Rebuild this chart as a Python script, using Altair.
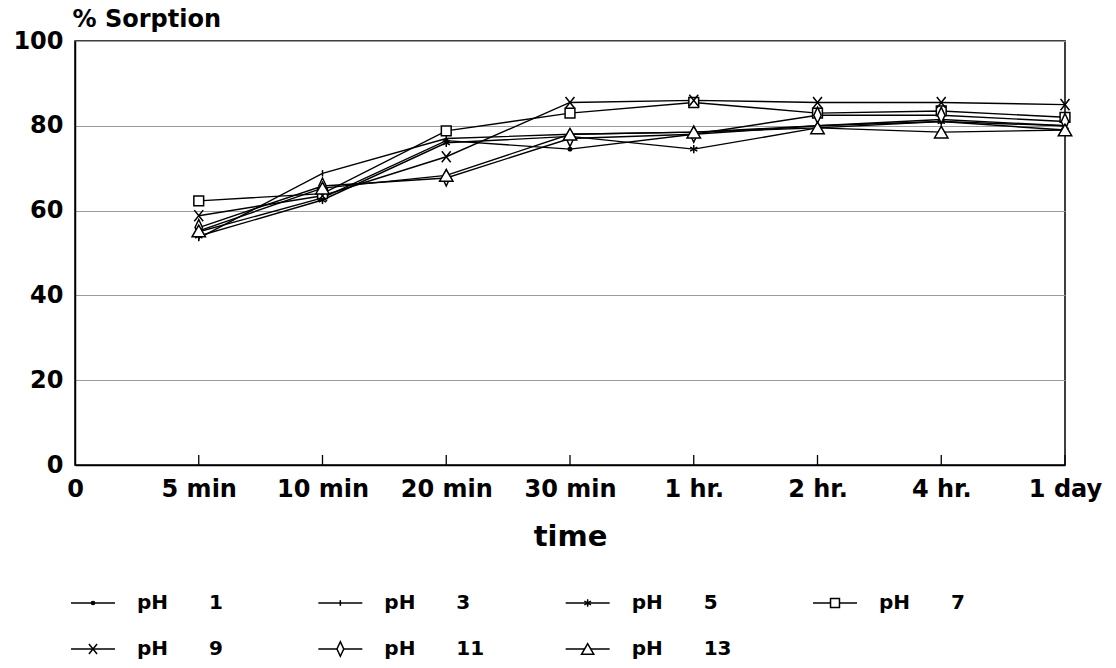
import json
import altair as alt
import pandas as pd

# ---------------- data ----------------
time_labels = ["0", "5 min", "10 min", "20 min", "30 min", "1 hr.", "2 hr.", "4 hr.", "1 day"]
series_names = ["pH 1", "pH 3", "pH 5", "pH 7", "pH 9", "pH 11", "pH 13"]
series_numbers = ["1", "3", "5", "7", "9", "11", "13"]

# values at 5 min, 10 min, 20 min, 30 min, 1 hr., 2 hr., 4 hr., 1 day
ph_1 = [55.0, 63.0, 76.5, 74.5, 78.0, 80.0, 81.0, 80.0]
ph_3 = [53.5, 68.8, 77.0, 78.0, 78.5, 80.0, 81.5, 80.0]
ph_5 = [54.0, 62.5, 76.0, 77.5, 74.5, 79.5, 81.0, 79.0]
ph_7 = [62.3, 64.0, 78.8, 83.0, 85.5, 83.0, 83.5, 82.0]
ph_9 = [58.8, 63.5, 72.7, 85.5, 86.0, 85.5, 85.5, 85.0]
ph_11 = [56.0, 65.8, 67.7, 77.0, 78.0, 82.5, 82.5, 81.0]
ph_13 = [55.2, 65.3, 68.3, 78.0, 78.5, 79.5, 78.5, 79.0]

all_values = [ph_1, ph_3, ph_5, ph_7, ph_9, ph_11, ph_13]

# ---------------- styles ----------------
FONT = "DejaVu Sans"
shape_range = [
    "circle",
    "M0,-1L0,1",
    "M0,-1L0,1M-0.87,-0.5L0.87,0.5M-0.87,0.5L0.87,-0.5",
    "square",
    "M-0.8,-1L0.8,1M-0.8,1L0.8,-1",
    "M0,-1.3L0.6,0L0,1.3L-0.6,0Z",
    "triangle-up",
]
fill_range = ["black", "white", "white", "white", "white", "white", "white"]
size_range = [12, 180, 160, 120, 140, 130, 120]
legend_size_range = [10, 150, 130, 70, 100, 90, 80]

W, H = 990, 424

rows = []
for name, vals in zip(series_names, all_values):
    for i, v in enumerate(vals):
        rows.append({"series": name, "t": i + 1, "value": v})
df = pd.DataFrame(rows)

tick_df = pd.DataFrame({"t": list(range(1, len(time_labels)))})

label_expr = json.dumps(time_labels) + "[datum.value]"

x_enc = alt.X(
    "t:Q",
    scale=alt.Scale(domain=[0, 8], nice=False, zero=False),
    axis=alt.Axis(
        values=list(range(len(time_labels))),
        labelExpr=label_expr,
        title="time",
        grid=False,
        ticks=False,
        domainColor="black",
        domainWidth=1.5,
        labelFont=FONT,
        labelFontWeight="bold",
        labelFontSize=24,
        labelColor="black",
        labelPadding=12,
        labelFlush=False,
        labelOverlap=False,
        titleFont=FONT,
        titleFontWeight="bold",
        titleFontSize=29,
        titleColor="black",
        titlePadding=21,
    ),
)
y_enc = alt.Y(
    "value:Q",
    scale=alt.Scale(domain=[0, 100], nice=False),
    axis=alt.Axis(
        values=[0, 20, 40, 60, 80, 100],
        grid=True,
        gridColor="#9a9a9a",
        gridWidth=1,
        ticks=False,
        domainColor="black",
        domainWidth=1.5,
        labelFont=FONT,
        labelFontWeight="bold",
        labelFontSize=24,
        labelColor="black",
        labelPadding=12,
        title="% Sorption",
        titleAngle=0,
        titleAlign="left",
        titleBaseline="alphabetic",
        titleX=-3,
        titleY=-15,
        titleFont=FONT,
        titleFontWeight="bold",
        titleFontSize=24,
        titleColor="black",
    ),
)

lines = alt.Chart(df).mark_line(color="black", strokeWidth=1.4).encode(
    x=x_enc, y=y_enc, detail="series:N"
)
points = alt.Chart(df).mark_point(stroke="black", strokeWidth=1.5, opacity=1).encode(
    x="t:Q",
    y="value:Q",
    shape=alt.Shape("series:N", scale=alt.Scale(domain=series_names, range=shape_range), legend=None),
    fill=alt.Fill("series:N", scale=alt.Scale(domain=series_names, range=fill_range), legend=None),
    size=alt.Size("series:N", scale=alt.Scale(domain=series_names, range=size_range), legend=None),
)
inner_ticks = alt.Chart(tick_df).mark_rule(color="black", strokeWidth=1.3).encode(
    x="t:Q", y=alt.value(H), y2=alt.value(H - 10)
)

main = alt.layer(lines, points, inner_ticks).properties(
    width=W, height=H, view=alt.ViewBackground(stroke="black", strokeWidth=1.5)
)

# ---------------- legend panel ----------------
leg_rows = []
for i, (name, num) in enumerate(zip(series_names, series_numbers)):
    leg_rows.append({"series": name, "num": num, "ph": "pH", "col": i % 4, "row": i // 4})
leg_df = pd.DataFrame(leg_rows)

LX = alt.X("col:Q", scale=alt.Scale(domain=[0, 3], range=[18, 760]), axis=None)
LY = alt.Y("row:Q", scale=alt.Scale(domain=[0, 1], range=[14, 60]), axis=None)

leg_line = alt.Chart(leg_df).mark_rule(color="black", strokeWidth=1.3, xOffset=-22, x2Offset=22).encode(
    x=LX, x2="col:Q", y=LY
)
leg_pts = alt.Chart(leg_df).mark_point(stroke="black", strokeWidth=1.5, opacity=1).encode(
    x="col:Q",
    y="row:Q",
    shape=alt.Shape("series:N", scale=alt.Scale(domain=series_names, range=shape_range), legend=None),
    fill=alt.Fill("series:N", scale=alt.Scale(domain=series_names, range=fill_range), legend=None),
    size=alt.Size("series:N", scale=alt.Scale(domain=series_names, range=legend_size_range), legend=None),
)
leg_ph = alt.Chart(leg_df).mark_text(
    align="left", baseline="middle", dx=44, font=FONT, fontWeight="bold", fontSize=20, color="black"
).encode(x="col:Q", y="row:Q", text="ph:N")
leg_num = alt.Chart(leg_df).mark_text(
    align="left", baseline="middle", dx=116, font=FONT, fontWeight="bold", fontSize=20, color="black"
).encode(x="col:Q", y="row:Q", text="num:N")

legend_panel = alt.layer(leg_line, leg_pts, leg_ph, leg_num).properties(
    width=W, height=70, view=alt.ViewBackground(stroke="transparent", strokeWidth=0)
)

chart = (
    alt.vconcat(main, legend_panel, spacing=37)
    .resolve_scale(x="independent", y="independent", shape="independent", fill="independent", size="independent")
    .properties(padding={"left": 12, "top": 6, "right": 0, "bottom": 0}, background="white")
)

chart.save("out.html", embed_options={"renderer": "svg", "actions": False})
